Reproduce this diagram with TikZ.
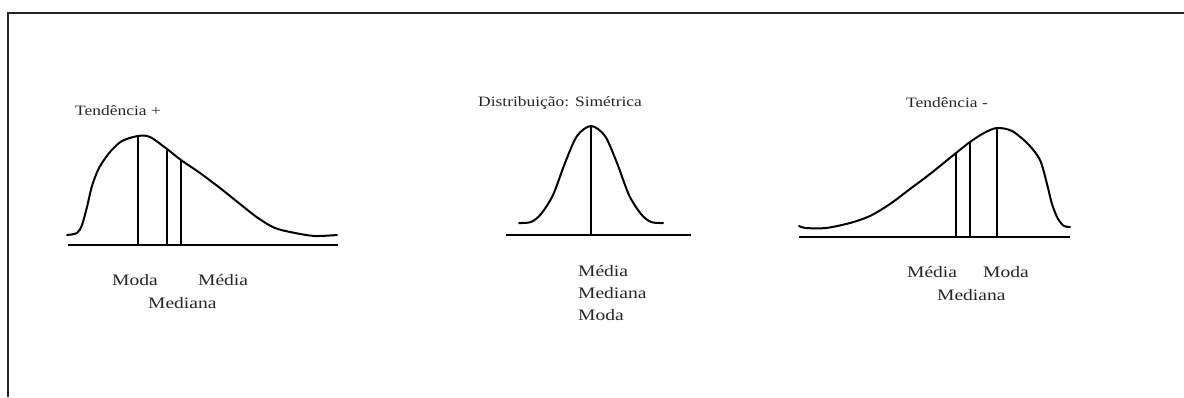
\documentclass[tikz,border=0pt]{standalone}
\usepackage{fontspec}
\setmainfont{Liberation Serif}
\newfontfamily\labfont[FakeStretch=1.22]{Liberation Serif}
\begin{document}
\begin{tikzpicture}[x=1pt,y=-1pt,
  frameline/.style={line width=1.6pt,draw=black!85},
  curveline/.style={line width=2pt,line join=round,line cap=round},
  baseline/.style={line width=1.4pt},
  markline/.style={line width=1.2pt},
  ttl/.style={anchor=base west,inner sep=0pt,font=\labfont\fontsize{14.3}{16}\selectfont,text=black!85},
  lbl/.style={anchor=base west,inner sep=0pt,font=\labfont\fontsize{16}{18}\selectfont,text=black!85}]
\useasboundingbox (0,0) rectangle (1184,397);
\fill[white] (0,0) rectangle (1184,397);
% frame
\draw[frameline] (8,397) -- (8,13) -- (1184,13);

% ---------- left: Tendencia +
\node[ttl] (t1) at (75,115) {Tendência +};
\draw[curveline] plot[smooth,tension=0.5] coordinates {(67,235) (77,233) (82,225) (87,207) (92,186) (99,168) (110,152) (122,141) (138,136) (150,137) (167,149) (181,160) (200,173) (220,188) (240,204) (258,218) (275,228) (295,233) (315,236) (337,235)};
\draw[baseline] (68,245) -- (338,245);
\draw[markline] (138,136) -- (138,245);
\draw[markline] (167,149) -- (167,245);
\draw[markline] (181,160) -- (181,245);
\node[lbl] (l1moda) at (112,285) {Moda};
\node[lbl] (l1media) at (198,285) {Média};
\node[lbl] (l1mediana) at (148,308) {Mediana};

% ---------- middle: simetrica
\node[ttl] (t2) at (478,106) {Distribuição: Simétrica};
\draw[curveline] plot[smooth,tension=0.5] coordinates {(519,223) (531,222) (541,214) (553,195) (565,163) (577,136) (591,126) (605,136) (617,163) (629,195) (641,214) (651,222) (663,223)};
\draw[baseline] (506,235) -- (691,235);
\draw[markline] (591,126) -- (591,235);
\node[lbl] (l2media) at (578,276) {Média};
\node[lbl] (l2mediana) at (578,298) {Mediana};
\node[lbl] (l2moda) at (578,320) {Moda};

% ---------- right: Tendencia -
\node[ttl] (t3) at (906,107) {Tendência -};
\draw[curveline] plot[smooth,tension=0.5] coordinates {(799,226) (806,228) (826,228) (850,223) (870,216) (890,204) (910,189) (930,174) (956,153) (970,142) (984,133) (997,128) (1012,131) (1028,144) (1040,160) (1047,184) (1052,204) (1058,219) (1064,226) (1070,227)};
\draw[baseline] (799,237) -- (1070,237);
\draw[markline] (956,153) -- (956,237);
\draw[markline] (970,142) -- (970,237);
\draw[markline] (997,128) -- (997,237);
\node[lbl] (l3media) at (907,277) {Média};
\node[lbl] (l3moda) at (983,277) {Moda};
\node[lbl] (l3mediana) at (937,300) {Mediana};
\end{tikzpicture}
\end{document}
